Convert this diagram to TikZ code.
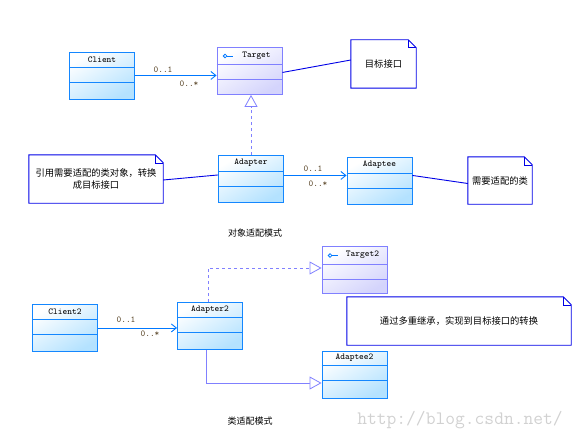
\documentclass[tikz,border=0pt]{standalone}
\usepackage{fontspec}
\newfontfamily\cjk{Noto Sans CJK SC}
\usetikzlibrary{arrows.meta}
\definecolor{clsborder}{RGB}{20,135,255}
\definecolor{clsfill}{RGB}{180,226,255}
\definecolor{ifborder}{RGB}{128,128,255}
\definecolor{iffill}{RGB}{212,212,252}
\definecolor{notecol}{RGB}{0,0,230}
\definecolor{assoccol}{RGB}{0,120,255}
\definecolor{multcol}{RGB}{90,70,40}
\tikzset{
  clsbox/.style={draw=clsborder, line width=0.9pt, top color=white, bottom color=clsfill, shading angle=30, inner sep=0pt},
  ifbox/.style={draw=ifborder, line width=0.9pt, top color=white, bottom color=iffill, shading angle=30, inner sep=0pt},
  clsline/.style={draw=clsborder, line width=0.9pt},
  ifline/.style={draw=ifborder, line width=0.9pt},
  clsname/.style={font=\ttfamily\fontsize{9}{10}\selectfont, text=black, inner sep=0pt},
  notebox/.style={inner sep=2pt, align=center, font=\cjk\fontsize{9.3}{12}\selectfont},
  noteline/.style={draw=notecol, line width=0.9pt},
  assoc/.style={draw=assoccol, line width=0.9pt, -{Straight Barb[length=5pt,width=8pt]}},
  mult/.style={font=\ttfamily\fontsize{9}{10}\selectfont, text=multcol, inner sep=0pt},
  gen/.style={draw=ifborder, line width=0.8pt, -{Triangle[open,length=12pt,width=13pt,fill=white]}},
  caption/.style={font=\cjk\fontsize{9}{10}\selectfont, inner sep=0pt},
  ificon/.style={draw=assoccol, line width=0.8pt},
}
% name, x, top y, label, box style, line style, header height, name x-offset
\newcommand\umlclass[8]{%
  \node[#5, minimum width=65pt, minimum height=47pt, anchor=north] (#1) at (#2,#3) {};
  \draw[#6] ([yshift=-#7*1pt]#1.north west) -- ([yshift=-#7*1pt]#1.north east);
  \draw[#6] ([yshift={-(#7+15)*1pt}]#1.north west) -- ([yshift={-(#7+15)*1pt}]#1.north east);
  \node[clsname] (#1-name) at ([xshift=#8*1pt,yshift={-0.5*#7*1pt}]#1.north) {#4};
}
\newcommand\umlnote[6]{%
  \node[notebox, minimum width=#4pt, minimum height=#5pt] (#1) at (#2,#3) {#6};
  \draw[noteline] (#1.north west) -- ([xshift=-8pt]#1.north east) -- ([yshift=-8pt]#1.north east) -- (#1.south east) -- (#1.south west) -- cycle;
  \draw[noteline, line width=0.6pt] ([xshift=-8pt]#1.north east) -- ([xshift=-8pt,yshift=-8pt]#1.north east) -- ([yshift=-8pt]#1.north east);
}
\begin{document}
\begin{tikzpicture}[x=1pt,y=-1pt]
\useasboundingbox (0,0) rectangle (577,441);
% ---------- object adapter ----------
\umlclass{client}{102}{52}{Client}{clsbox}{clsline}{15}{0}
\umlclass{target}{249.5}{47}{Target}{ifbox}{ifline}{17}{7}
\draw[ificon] ([xshift=8.5pt,yshift=-9pt]target.north west) circle (1.8pt);
\draw[ificon] ([xshift=10.3pt,yshift=-9pt]target.north west) -- ([xshift=16pt,yshift=-9pt]target.north west);
\umlclass{adapter}{251}{155}{Adapter}{clsbox}{clsline}{16}{0}
\umlclass{adaptee}{379.5}{157}{Adaptee}{clsbox}{clsline}{16}{0}
\umlnote{note1}{383.5}{64}{65}{48}{目标接口}
\umlnote{note2}{96}{179}{134}{48}{引用需要适配的类对象，转换\\成目标接口}
\umlnote{note3}{500}{180.5}{64}{47}{需要适配的类}

\draw[assoc] ([yshift=0.5pt]client.east) -- ([yshift=0.5pt]client.east -| target.west);
\node[mult] (m1) at (163,70) {0..1};
\node[mult] (m2) at (189,84) {0..*};
\draw[gen, dashed] (adapter.north) -- (adapter.north |- target.south);
\draw[assoc] ([yshift=3.5pt]adapter.east) -- ([yshift=3.5pt]adapter.east -| adaptee.west);
\node[mult] (m3) at (313,169) {0..1};
\node[mult] (m4) at (318,184) {0..*};
\draw[noteline] ([yshift=-1.5pt]target.east) -- ([yshift=4pt]note1.west);
\draw[noteline] ([yshift=-1pt]note2.east) -- ([yshift=4pt]adapter.west);
\draw[noteline] ([yshift=5.5pt]adaptee.east) -- ([yshift=-3pt]note3.west);
\node[caption] (cap1) at (255,233) {对象适配模式};
% ---------- class adapter ----------
\umlclass{target2}{354.5}{246}{Target2}{ifbox}{ifline}{18}{8}
\draw[ificon] ([xshift=8.5pt,yshift=-9.5pt]target2.north west) circle (1.8pt);
\draw[ificon] ([xshift=10.3pt,yshift=-9.5pt]target2.north west) -- ([xshift=16pt,yshift=-9.5pt]target2.north west);
\umlclass{client2}{65}{304}{Client2}{clsbox}{clsline}{15}{0}
\umlclass{adapter2}{210}{302}{Adapter2}{clsbox}{clsline}{15}{0}
\umlclass{adaptee2}{354.5}{351}{Adaptee2}{clsbox}{clsline}{14}{0}
\umlnote{note4}{459}{321}{224}{48}{通过多重继承，实现到目标接口的转换}
\draw[assoc] (client2.east) -- (client2.east -| adapter2.west);
\node[mult] (m5) at (126,320) {0..1};
\node[mult] (m6) at (150,334) {0..*};
\draw[gen, dashed] ([xshift=-2pt]adapter2.north) |- ([yshift=-22pt]target2.north west);
\draw[gen] ([xshift=-4pt]adapter2.south) |- ([yshift=-32pt]adaptee2.north west);
\node[caption] (cap2) at (250,421) {类适配模式};
\node[font=\ttfamily\fontsize{19}{20}\selectfont, text=black!18, inner sep=0pt] (wm) at (460,420) {http://blog.csdn.net/};
\end{tikzpicture}
\end{document}
